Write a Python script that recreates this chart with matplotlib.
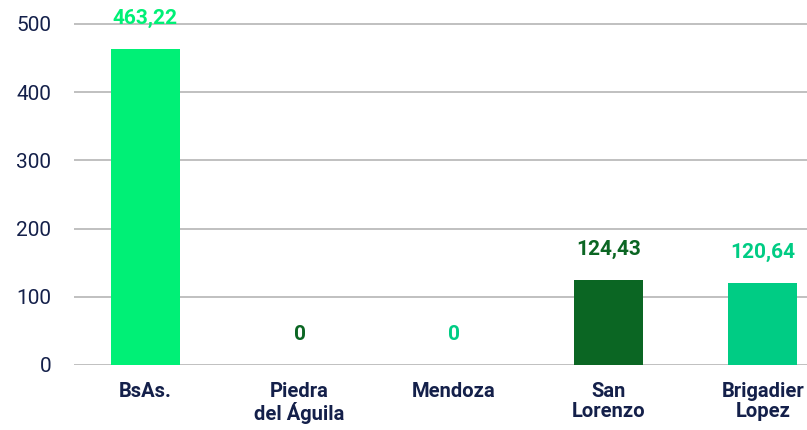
import matplotlib
matplotlib.use("Agg")
import matplotlib.pyplot as plt

categories = ["BsAs.", "Piedra\ndel Águila", "Mendoza", "San\nLorenzo", "Brigadier\nLopez"]
values = [463.22, 0, 0, 124.43, 120.64]
labels = ["463,22", "0", "0", "124,43", "120,64"]
colors = ["#00F076", "#0B6623", "#00CC84", "#0B6623", "#00CC84"]
yticks = [0, 100, 200, 300, 400, 500]

navy = "#14204A"
plt.rcParams['font.family'] = ['Roboto', 'DejaVu Sans']

fig = plt.figure(figsize=(8.07, 4.30), dpi=100)
ax = fig.add_axes([74/807, 65/430, (807-74)/807, 365/430])
x = list(range(len(categories)))
ax.bar(x, values, width=0.447, color=colors, zorder=3)
ax.set_xlim(-0.46, 4.285)
ax.set_ylim(0, 535)
ax.set_yticks(yticks)
ax.set_yticklabels([str(t) for t in yticks], fontsize=15, color=navy)
ax.set_xticks(x)
ax.set_xticklabels(categories, fontsize=14.5, fontweight='bold', color=navy, linespacing=1.1)
ax.tick_params(axis='y', length=0, pad=16.5)
ax.tick_params(axis='x', length=0, pad=12)
ax.grid(axis='y', color='#BBBBBB', linewidth=1.3, zorder=0)
for s in ax.spines.values():
    s.set_visible(False)
for xi, v, lab, c in zip(x, values, labels, colors):
    ax.annotate(lab, (xi, v), xytext=(0, 22), textcoords='offset points',
                ha='center', va='center', fontsize=15, fontweight='bold',
                color=c, annotation_clip=False)
fig.savefig("out.png", dpi=100)
